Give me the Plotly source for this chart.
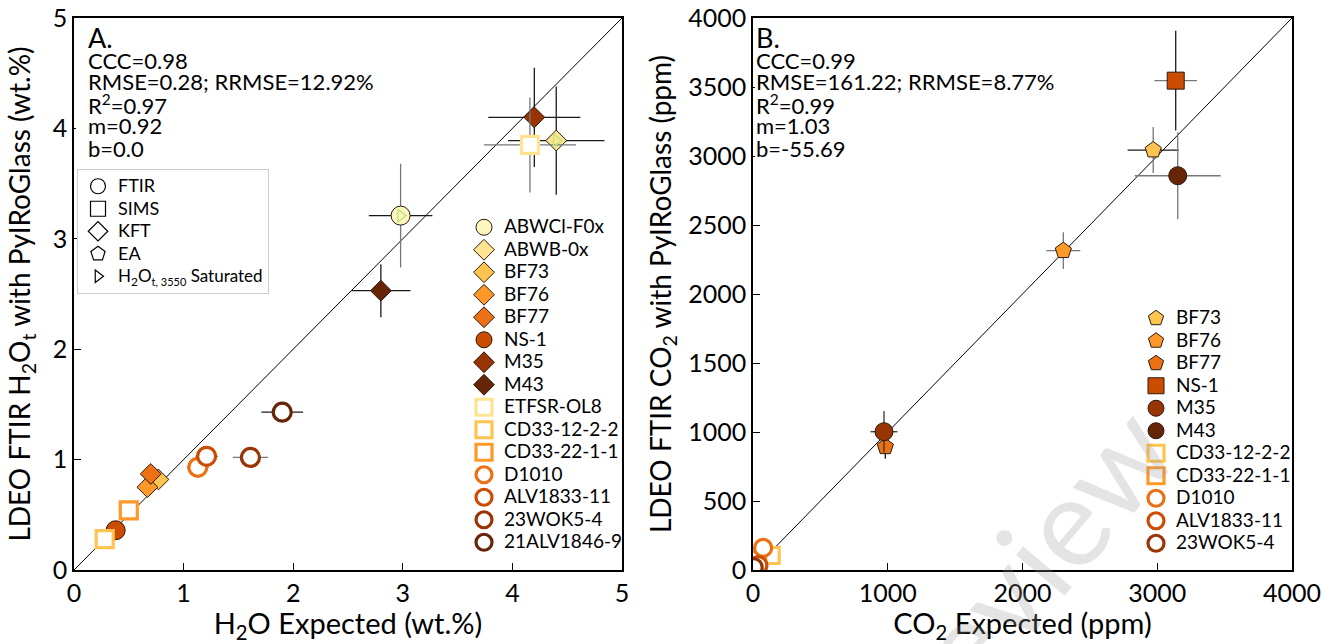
import plotly.graph_objects as go

# ---------------- data: panel A (H2O, wt.%) ----------------
h2o_samples = ["ABWCl-F0x", "ABWB-0x", "BF73", "BF76", "BF77", "NS-1", "M35", "M43",
               "ETFSR-OL8", "CD33-12-2-2", "CD33-22-1-1", "D1010", "ALV1833-11",
               "23WOK5-4", "21ALV1846-9"]
h2o_method = ["FTIR", "KFT", "KFT", "KFT", "KFT", "FTIR", "KFT", "KFT",
              "SIMS", "SIMS", "SIMS", "FTIR", "FTIR", "FTIR", "FTIR"]
h2o_filled = [True, True, True, True, True, True, True, True,
              False, False, False, False, False, False, False]
h2o_expected = [2.98, 4.40, 0.77, 0.67, 0.70, 0.38, 4.20, 2.80,
                4.16, 0.28, 0.50, 1.13, 1.21, 1.61, 1.90]
h2o_measured = [3.21, 3.89, 0.82, 0.75, 0.87, 0.36, 4.10, 2.53,
                3.85, 0.28, 0.54, 0.93, 1.03, 1.02, 1.43]
h2o_xerr = [0.29, 0.44, 0.0, 0.0, 0.0, 0.0, 0.42, 0.27,
            0.42, 0.0, 0.0, 0.10, 0.10, 0.16, 0.19]
h2o_yerr = [0.47, 0.49, 0.0, 0.0, 0.0, 0.0, 0.45, 0.24,
            0.43, 0.0, 0.0, 0.0, 0.0, 0.0, 0.03]
h2o_saturated = ["ABWCl-F0x", "ABWB-0x"]

# ---------------- data: panel B (CO2, ppm) ----------------
co2_samples = ["BF73", "BF76", "BF77", "NS-1", "M35", "M43",
               "CD33-12-2-2", "CD33-22-1-1", "D1010", "ALV1833-11", "23WOK5-4"]
co2_method = ["EA", "EA", "EA", "SIMS", "FTIR", "FTIR",
              "SIMS", "SIMS", "FTIR", "FTIR", "FTIR"]
co2_filled = [True, True, True, True, True, True,
              False, False, False, False, False]
co2_expected = [2970, 2303, 982, 3137, 972, 3152, 135, 35, 75, 40, 5]
co2_measured = [3043, 2314, 893, 3546, 1002, 2857, 105, 75, 160, 35, 20]
co2_xerr = [190, 126, 0, 158, 100, 319, 0, 0, 0, 0, 0]
co2_yerr = [167, 133, 87, 362, 150, 315, 0, 0, 0, 0, 0]

# ---------------- text ----------------
stats_a = ["CCC=0.98", "RMSE=0.28; RRMSE=12.92%", "R<sup>2</sup>=0.97", "m=0.92", "b=0.0"]
stats_b = ["CCC=0.99", "RMSE=161.22; RRMSE=8.77%", "R<sup>2</sup>=0.99", "m=1.03", "b=-55.69"]
method_names = ["FTIR", "SIMS", "KFT", "EA"]
h2o_ticks = [0, 1, 2, 3, 4, 5]
co2_xticks = [0, 1000, 2000, 3000, 4000]
co2_yticks = [0, 500, 1000, 1500, 2000, 2500, 3000, 3500, 4000]

# ---------------- styles ----------------
colors = {"ABWCl-F0x": "#FFF5BE", "ABWB-0x": "#FEE391", "BF73": "#FEC44F", "BF76": "#FE9929",
          "BF77": "#EC7014", "NS-1": "#CC4C02", "M35": "#993404", "M43": "#662506",
          "ETFSR-OL8": "#FEE391", "CD33-12-2-2": "#FEC44F", "CD33-22-1-1": "#FE9929",
          "D1010": "#EC7014", "ALV1833-11": "#CC4C02", "23WOK5-4": "#993404",
          "21ALV1846-9": "#662506"}
DK, GR = "#1a1a1a", "#777777"
err_cols_a = {"ABWCl-F0x": (DK, GR), "ABWB-0x": (DK, DK), "M35": (DK, DK), "M43": (DK, DK),
              "ETFSR-OL8": (GR, GR), "D1010": (GR, GR), "ALV1833-11": (DK, DK),
              "23WOK5-4": (GR, GR), "21ALV1846-9": (DK, DK)}
err_cols_b = {"BF73": (DK, GR), "BF76": (GR, GR), "BF77": (DK, DK), "NS-1": (GR, DK),
              "M35": ("#333333", "#333333"), "M43": (GR, GR)}
symbols = {"FTIR": "circle", "SIMS": "square", "KFT": "diamond", "EA": "pentagon"}
sizes_a = {"FTIR": 19, "SIMS": 18, "KFT": 16, "EA": 17}
sizes_b = {"FTIR": 18, "SIMS": 17, "KFT": 15, "EA": 17}
FONT = "Lato"
W, H = 1334, 644
ML, MR, MT, MB = 74, 42, 18, 74
PW, PH = W - ML - MR, H - MT - MB


def px2paper(px, py):
    return (px - ML) / PW, (H - MB - py) / PH


def big(s, size=19):
    return '<span style="font-size:%dpx">%s</span>' % (size, s)


fig = go.Figure()

# 1:1 lines
fig.add_trace(go.Scatter(x=[h2o_ticks[0], h2o_ticks[-1]], y=[h2o_ticks[0], h2o_ticks[-1]],
                         mode="lines", line=dict(color="black", width=1),
                         showlegend=False, hoverinfo="skip", xaxis="x", yaxis="y"))
fig.add_trace(go.Scatter(x=[co2_xticks[0], co2_xticks[-1]], y=[co2_xticks[0], co2_xticks[-1]],
                         mode="lines", line=dict(color="black", width=1),
                         showlegend=False, hoverinfo="skip", xaxis="x2", yaxis="y2"))


def add_points(names, methods, filled, xs, ys, xe, ye, sizes, ecols, xa, ya, legend):
    for i, n in enumerate(names):
        col = colors[n]
        if filled[i]:
            marker = dict(symbol=symbols[methods[i]], size=sizes[methods[i]], color=col,
                          line=dict(color="#2b1a0e", width=1))
        else:
            marker = dict(symbol=symbols[methods[i]], size=sizes[methods[i]] - 1, color="white",
                          line=dict(color=col, width=3.2))
        cx, cy = ecols.get(n, (DK, DK))
        fig.add_trace(go.Scatter(
            x=[xs[i]], y=[ys[i]], mode="markers", name=big(n), marker=marker,
            error_x=dict(type="data", array=[xe[i]], visible=xe[i] > 0, width=0,
                         color=cx, thickness=1.3),
            error_y=dict(type="data", array=[ye[i]], visible=ye[i] > 0, width=0,
                         color=cy, thickness=1.3),
            xaxis=xa, yaxis=ya, legend=legend))


add_points(h2o_samples, h2o_method, h2o_filled, h2o_expected, h2o_measured,
           h2o_xerr, h2o_yerr, sizes_a, err_cols_a, "x", "y", "legend2")

# saturated markers (H2Ot,3550)
sat_idx = [h2o_samples.index(s) for s in h2o_saturated]
fig.add_trace(go.Scatter(x=[h2o_expected[i] for i in sat_idx], y=[h2o_measured[i] for i in sat_idx],
                         mode="markers", showlegend=False, hoverinfo="skip",
                         marker=dict(symbol="triangle-right-open", size=11,
                                     line=dict(color="#333333", width=1.3)),
                         xaxis="x", yaxis="y"))

add_points(co2_samples, co2_method, co2_filled, co2_expected, co2_measured,
           co2_xerr, co2_yerr, sizes_b, err_cols_b, "x2", "y2", "legend3")

# method legend (legend-only traces)
for m in method_names:
    fig.add_trace(go.Scatter(x=[None], y=[None], mode="markers", name=big(m, 18),
                             marker=dict(symbol=symbols[m] + "-open", size=15,
                                         line=dict(color="black", width=1.2), color="black"),
                             xaxis="x", yaxis="y", legend="legend"))
fig.add_trace(go.Scatter(x=[None], y=[None], mode="markers",
                         name=big("H<sub>2</sub>O<sub><span style=\"font-size:11px\">t, 3550</span></sub> Saturated", 17),
                         marker=dict(symbol="triangle-right-open", size=11,
                                     line=dict(color="black", width=1.2), color="black"),
                         xaxis="x", yaxis="y", legend="legend"))

axis_common = dict(showline=True, mirror=True, linecolor="black", linewidth=1.5,
                   ticks="inside", ticklen=7, tickwidth=1, tickcolor="black",
                   showgrid=False, zeroline=False, automargin=False,
                   tickfont=dict(family=FONT, size=25, color="black"))
tfy = dict(family=FONT, size=28, color="black")
tfx = dict(family=FONT, size=29, color="black")

d1 = (622 - ML) / PW
d2 = (753 - ML) / PW

lx, ly = px2paper(77, 169)
l2x, l2y = px2paper(464, 211)
l3x, l3y = px2paper(1136, 302)

fig.update_layout(
    width=W, height=H,
    margin=dict(l=ML, r=MR, t=MT, b=MB, autoexpand=False),
    paper_bgcolor="white", plot_bgcolor="white",
    font=dict(family=FONT, color="black"),
    xaxis=dict(domain=[0, d1], range=[0, 5], tickvals=h2o_ticks,
               title=dict(text="H<sub>2</sub>O Expected (wt.%)", standoff=5, font=tfx), **axis_common),
    yaxis=dict(domain=[0, 1], range=[0, 5], tickvals=h2o_ticks,
               title=dict(text="LDEO FTIR H<sub>2</sub>O<sub>t</sub> with PyIRoGlass (wt.%)",
                          standoff=14, font=tfy),
               **axis_common),
    xaxis2=dict(domain=[d2, 1], range=[0, 4000], tickvals=co2_xticks, anchor="y2",
                title=dict(text="CO<sub>2</sub> Expected (ppm)", standoff=5, font=tfx), **axis_common),
    yaxis2=dict(domain=[0, 1], range=[0, 4000], tickvals=co2_yticks, anchor="x2",
                title=dict(text="LDEO FTIR CO<sub>2</sub> with PyIRoGlass (ppm)", standoff=8, font=tfy),
                **axis_common),
    legend=dict(x=lx, y=ly, xanchor="left", yanchor="top", bgcolor="white",
                bordercolor="#cccccc", borderwidth=1, font=dict(family=FONT, size=15),
                itemwidth=30, tracegroupgap=0),
    legend2=dict(x=l2x, y=l2y, xanchor="left", yanchor="top", bgcolor="rgba(0,0,0,0)",
                 borderwidth=0, font=dict(family=FONT, size=15), itemwidth=30),
    legend3=dict(x=l3x, y=l3y, xanchor="left", yanchor="top", bgcolor="rgba(0,0,0,0)",
                 borderwidth=0, font=dict(family=FONT, size=15), itemwidth=30),
    showlegend=True,
)

# white boxes behind statistics text (hide inner ticks like the reference)
shapes = []
for x0p, x1p in [(76, 380), (755, 1060)]:
    a0, b0 = px2paper(x0p, 160)
    a1, b1 = px2paper(x1p, 26)
    shapes.append(dict(type="rect", xref="paper", yref="paper", x0=a0, x1=a1, y0=b0, y1=b1,
                       fillcolor="white", line=dict(width=0), layer="above"))
fig.update_layout(shapes=shapes)

# panel labels and statistics
anns = []
for label, stats, px0 in [("A.", stats_a, 86), ("B.", stats_b, 754)]:
    x0, y0 = px2paper(px0, 37)
    anns.append(dict(text=label, x=x0, y=y0, xref="paper", yref="paper", xanchor="left",
                     yanchor="middle", showarrow=False, font=dict(family=FONT, size=27)))
    for k, s in enumerate(stats):
        xk, yk = px2paper(px0, 60 + 22 * k)
        anns.append(dict(text=s, x=xk, y=yk, xref="paper", yref="paper", xanchor="left",
                         yanchor="middle", showarrow=False, font=dict(family=FONT, size=22)))
wx, wy = px2paper(1005, 592)
anns.append(dict(text="Preview", x=wx, y=wy, xref="paper", yref="paper", showarrow=False,
                 xanchor="center", yanchor="middle", textangle=-50,
                 font=dict(family=FONT, size=125, color="rgba(150,150,150,0.26)")))
fig.update_layout(annotations=anns)

fig.write_html("out.html")
